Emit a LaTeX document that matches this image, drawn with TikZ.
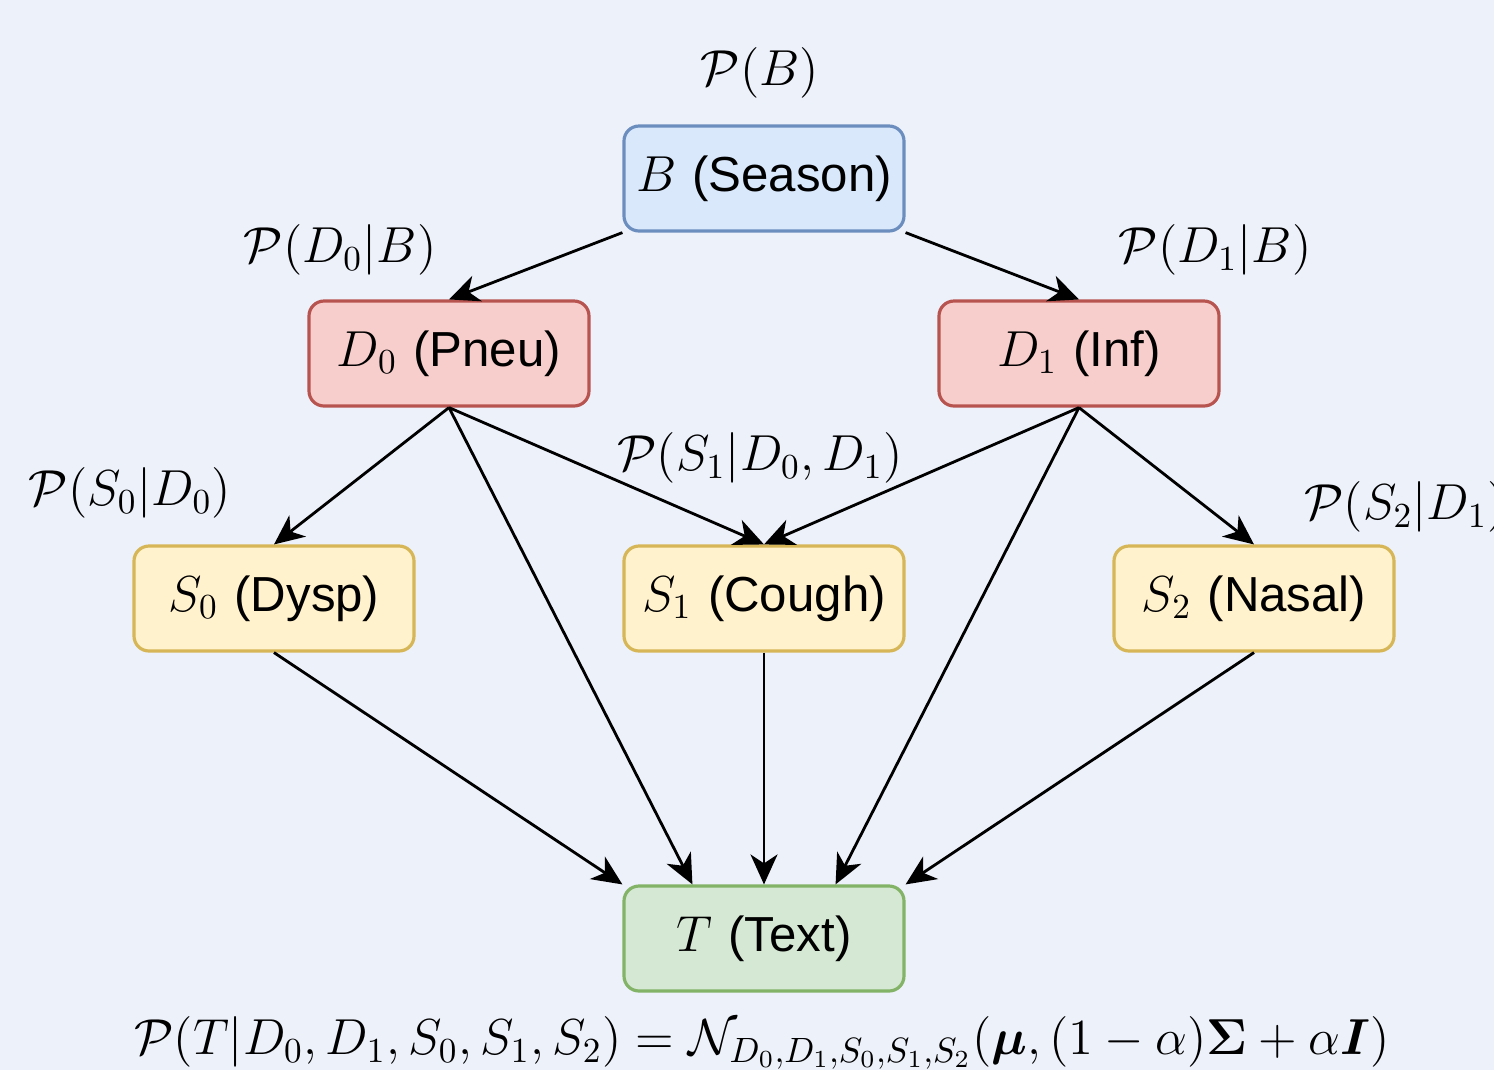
\documentclass[tikz,border=0pt]{standalone}
\usepackage{amsmath,bm}
\usepackage{fontspec}
\setsansfont{Liberation Sans}
\usetikzlibrary{arrows.meta}
\definecolor{bgpage}{HTML}{EDF1FA}
\definecolor{blueF}{HTML}{DAE8FC}\definecolor{blueD}{HTML}{6C8EBF}
\definecolor{redF}{HTML}{F8CECC}\definecolor{redD}{HTML}{B85450}
\definecolor{yelF}{HTML}{FFF2CC}\definecolor{yelD}{HTML}{D6B656}
\definecolor{grnF}{HTML}{D5E8D4}\definecolor{grnD}{HTML}{82B366}
\tikzset{
  var/.style={draw,rounded corners=0.15cm,line width=0.9pt,minimum width=2.8cm,minimum height=1.05cm,font=\fontsize{14}{16}\selectfont},
  lbl/.style={font=\fontsize{13.7}{16}\selectfont},
  dep/.style={line width=0.8pt,-{Stealth[length=0.3cm,width=0.27cm,inset=0.09cm]}}
}
\begin{document}
\begin{tikzpicture}
\fill[bgpage](0,0)rectangle(14.94,-10.70);
\useasboundingbox(0,0)rectangle(14.94,-10.70);
% variables
\node[var,fill=blueF,draw=blueD](B)at(7.64,-1.785){$B$ \textsf{(Season)}};
\node[var,fill=redF,draw=redD](D0)at(4.49,-3.535){$D_0$ \textsf{(Pneu)}};
\node[var,fill=redF,draw=redD](D1)at(10.79,-3.535){$D_1$ \textsf{(Inf)}};
\node[var,fill=yelF,draw=yelD](S0)at(2.74,-5.985){$S_0$ \textsf{(Dysp)}};
\node[var,fill=yelF,draw=yelD](S1)at(7.64,-5.985){$S_1$ \textsf{(Cough)}};
\node[var,fill=yelF,draw=yelD](S2)at(12.54,-5.985){$S_2$ \textsf{(Nasal)}};
\node[var,fill=grnF,draw=grnD](T)at(7.64,-9.385){$T$ \textsf{(Text)}};
% probabilities
\node[lbl](pB)at(7.60,-0.73){$\mathcal{P}(B)$};
\node[lbl](pD0)at(3.40,-2.50){$\mathcal{P}(D_0|B)$};
\node[lbl](pD1)at(12.15,-2.50){$\mathcal{P}(D_1|B)$};
\node[lbl](pS1)at(7.60,-4.58){$\mathcal{P}(S_1|D_0,D_1)$};
\node[lbl](pS0)at(1.30,-4.93){$\mathcal{P}(S_0|D_0)$};
\node[lbl,anchor=west](pS2)at(12.92,-5.07){$\mathcal{P}(S_2|D_1)$};
\node[lbl](pT)at(7.62,-10.43){$\mathcal{P}(T|D_0,D_1,S_0,S_1,S_2)=\mathcal{N}_{D_0,D_1,S_0,S_1,S_2}(\bm{\mu},(1-\alpha)\bm{\Sigma}+\alpha\bm{I})$};
% edges
\draw[dep](B.south west)--(D0.north);
\draw[dep](B.south east)--(D1.north);
\draw[dep](D0.south)--(S0.north);
\draw[dep](D0.south)--(S1.north);
\draw[dep](D0.south)--([xshift=0.7cm]T.north west);
\draw[dep](D1.south)--(S1.north);
\draw[dep](D1.south)--(S2.north);
\draw[dep](D1.south)--([xshift=-0.7cm]T.north east);
\draw[dep](S0.south)--(T.north west);
\draw[dep](S1.south)--(T.north);
\draw[dep](S2.south)--(T.north east);
\end{tikzpicture}
\end{document}
